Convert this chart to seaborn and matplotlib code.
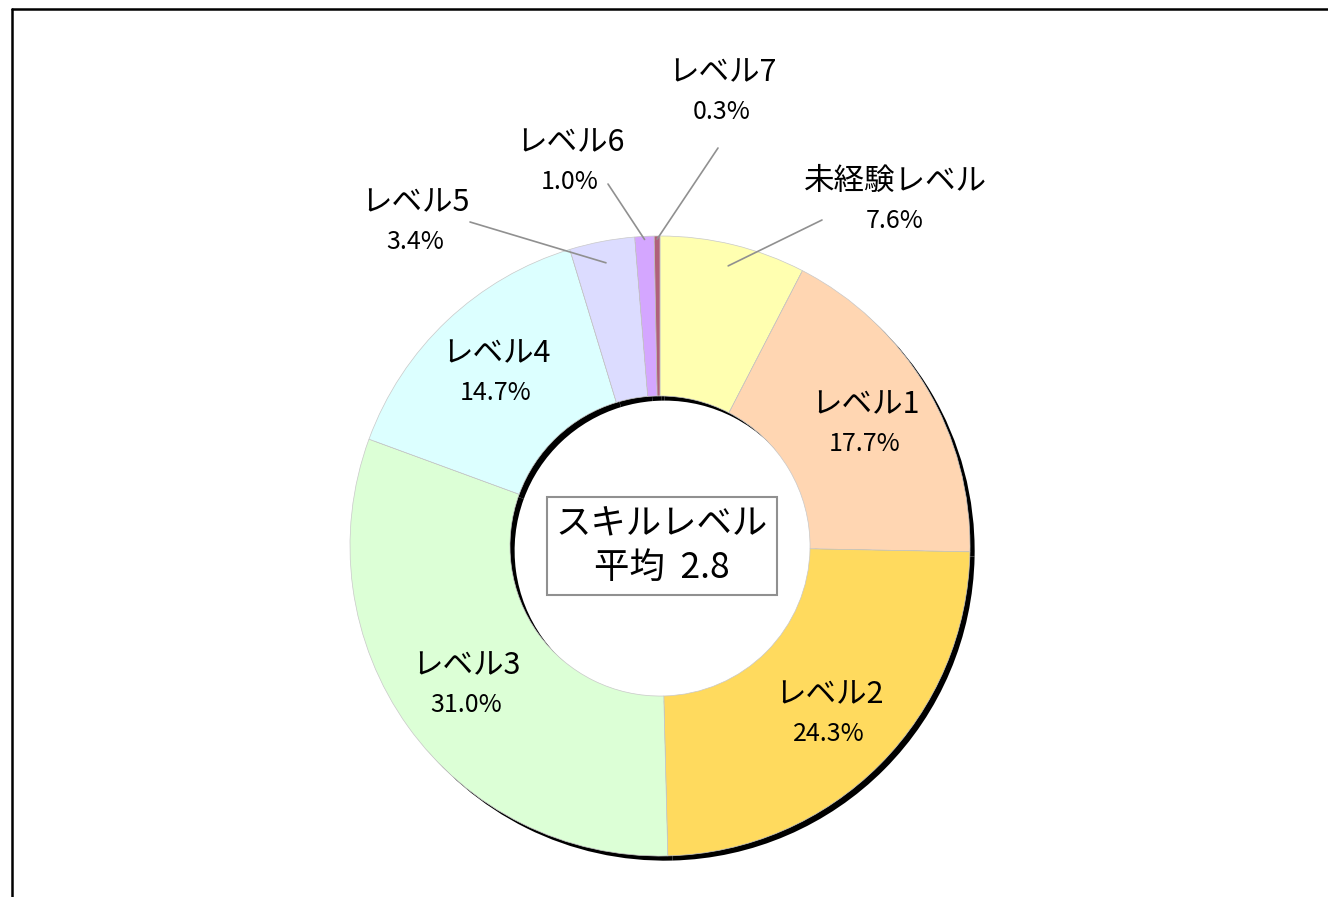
import seaborn as sb
import matplotlib.pyplot as plt
import numpy as np
from matplotlib.lines import Line2D

# data
labels = ['未経験レベル', 'レベル1', 'レベル2', 'レベル3', 'レベル4', 'レベル5', 'レベル6', 'レベル7']
shares = [7.6, 17.7, 24.3, 31.0, 14.7, 3.4, 1.0, 0.3]
colors = ['#FFFFB0', '#FFD6B2', '#FFDA5E', '#DCFFD6', '#DCFFFF', '#DCDCFF', '#D4A6FF', '#B0607A']
avg_level = 2.8

sb.set_theme(style='white')
plt.rcParams['font.family'] = ['Noto Sans CJK JP', 'DejaVu Sans']
plt.rcParams['text.color'] = 'black'

W, H = 1328, 897
cx, cy, R = 660, 546, 310
fig = plt.figure(figsize=(W / 100, H / 100), dpi=100)
ax = fig.add_axes([0, 0, 1, 1])

ring = 0.516
# shadow ring, shifted right/down
ax.pie(shares, colors=['black'] * len(shares), startangle=90, counterclock=False,
       center=(0.015, -0.015), radius=1.0, frame=True,
       wedgeprops=dict(width=ring, linewidth=0))
wedges, _ = ax.pie(shares, colors=colors, startangle=90, counterclock=False,
                   radius=1.0, frame=True,
                   wedgeprops=dict(width=ring, edgecolor='#c8c8c8', linewidth=0.5))
ax.set_xlim(-cx / R, (W - cx) / R)
ax.set_ylim(-(H - cy) / R, cy / R)
ax.set_aspect('equal')
ax.axis('off')

fs_name, fs_pct = 22, 18

# inner labels
for w, lab, s in zip(wedges, labels, shares):
    ang = np.deg2rad((w.theta1 + w.theta2) / 2)
    if lab in ('レベル1', 'レベル2', 'レベル3', 'レベル4'):
        r = 0.77
        x, y = r * np.cos(ang), r * np.sin(ang)
        ax.text(x, y + 0.062, lab, ha='center', va='center', fontsize=fs_name)
        ax.text(x, y - 0.065, f'{s:.1f}%', ha='center', va='center', fontsize=fs_pct)

# outer labels with leader lines (text anchor in pixels, line end in pixels)
outer = {
    '未経験レベル': ((895, 201), (822, 220)),
    'レベル5': ((415, 222), (470, 222)),
    'レベル6': ((570, 162), (608, 184)),
    'レベル7': ((722, 92), (718, 148)),
}
for w, lab, s in zip(wedges, labels, shares):
    if lab not in outer:
        continue
    (tx, ty), (lx, ly) = outer[lab]
    ang = np.deg2rad((w.theta1 + w.theta2) / 2)
    r0 = 0.93 if lab in ('未経験レベル', 'レベル5') else 0.99
    x0, y0 = r0 * np.cos(ang), r0 * np.sin(ang)
    ax.plot([x0, (lx - cx) / R], [y0, (cy - ly) / R], color='#909090', linewidth=1.2)
    X, Y = (tx - cx) / R, (cy - ty) / R
    ax.text(X, Y + 0.062, lab, ha='center', va='center', fontsize=fs_name)
    ax.text(X, Y - 0.065, f'{s:.1f}%', ha='center', va='center', fontsize=fs_pct)

# center box
ax.text(0.005, 0.0, f'スキルレベル\n平均  {avg_level}', ha='center', va='center',
        fontsize=25.5, linespacing=1.3,
        bbox=dict(boxstyle='square,pad=0.25', facecolor='white', edgecolor='#909090', linewidth=1.5))

# outer frame (top and left visible)
fig.add_artist(Line2D([11.5 / W, 1], [1 - 9.5 / H, 1 - 9.5 / H], color='black', linewidth=1.8))
fig.add_artist(Line2D([11.5 / W, 11.5 / W], [0, 1 - 9.5 / H], color='black', linewidth=1.8))

plt.savefig('out.png', dpi=100)
